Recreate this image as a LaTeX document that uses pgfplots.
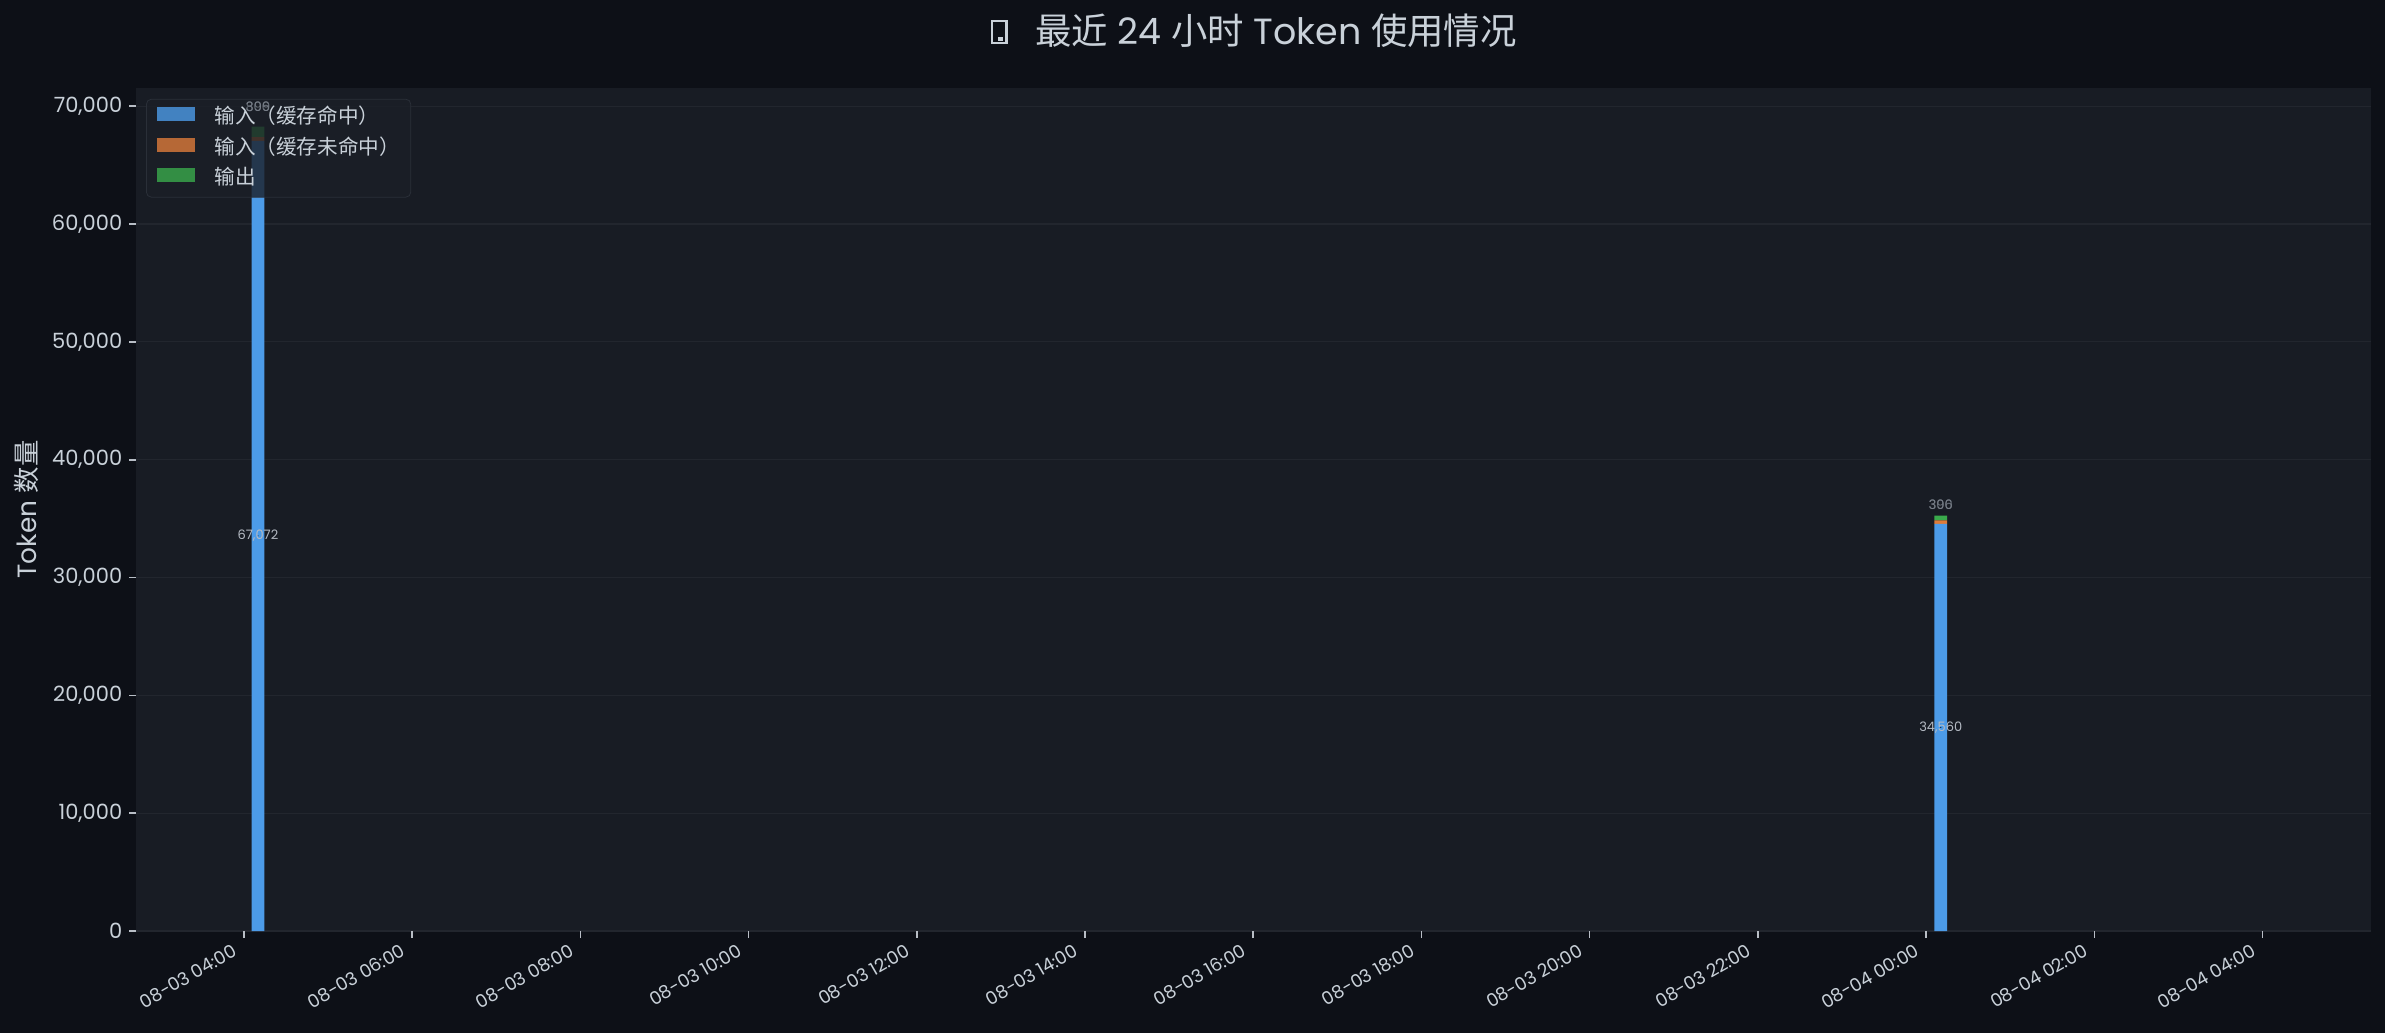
\documentclass[border=0pt]{standalone}
\usepackage{pgfplots}
\pgfplotsset{compat=1.18}
\usepackage{pgfplotstable}
\usepackage{fontspec}
\setmainfont{Poppins}
\newfontfamily\cjk{Noto Sans CJK SC}
\definecolor{figbg}{HTML}{0D1017}
\definecolor{axbg}{HTML}{181C24}
\definecolor{gridc}{HTML}{22262E}
\definecolor{txt}{HTML}{C9D1D9}
\definecolor{tickc}{HTML}{B8BEC6}
\definecolor{cblue}{HTML}{4C9BE8}
\definecolor{corange}{HTML}{DD7B3A}
\definecolor{cgreen}{HTML}{3AAB4C}
\definecolor{legbg}{HTML}{1B1F27}
\definecolor{legbd}{HTML}{2A2F38}
\definecolor{lbl}{HTML}{B4BAC3}
\definecolor{lbldim}{HTML}{7D848E}

% hours since 08-03 00:00
\pgfplotstableread{
x y
4.167 67072
24.174 34560
}\hitdata
\pgfplotstableread{
x y
4.167 306
24.174 300
}\missdata
\pgfplotstableread{
x y
4.167 899
24.174 396
}\outdata
\pgfplotstableread{
x y label
4.167 33536 67,072
24.174 17280 34,560
}\hitlabels
\pgfplotstableread{
x y label
4.167 69980 306
24.174 36165 300
4.167 69980 899
24.174 36165 396
}\toplabels

\begin{document}
\begin{tikzpicture}
\fill[figbg] (0,0) rectangle (1192.5pt,516.5pt);
\useasboundingbox (0,0) rectangle (1192.5pt,516.5pt);
\begin{axis}[
  at={(68pt,51pt)}, anchor=south west,
  scale only axis, width=1117.5pt, height=421.5pt,
  xmin=2.717, xmax=29.29, ymin=0, ymax=71550,
  axis background/.style={fill=axbg},
  axis line style={draw=none},
  ybar stacked, bar width=0.15,
  legend image code/.code={\fill[#1,/tikz/.cd,sharp corners] (0pt,-3pt) rectangle (19pt,4pt);},
  xtick={4,6,...,28},
  xticklabels={08-03 04:00,08-03 06:00,08-03 08:00,08-03 10:00,08-03 12:00,08-03 14:00,08-03 16:00,08-03 18:00,08-03 20:00,08-03 22:00,08-04 00:00,08-04 02:00,08-04 04:00},
  ytick={0,10000,...,70000},
  scaled y ticks=false,
  yticklabel style={/pgf/number format/1000 sep={,}, /pgf/number format/assume math mode=true,
     font=\fontsize{10.5}{12}\selectfont, text=txt, anchor=east, inner sep=0pt, xshift=-3.2pt},
  xticklabel style={xshift=-6pt, yshift=-2.4pt, rotate=30, anchor=north east, font=\fontsize{9}{11}\selectfont, text=txt,
     inner sep=0pt},
  tick align=outside, major tick length=3.5pt,
  xtick pos=bottom, ytick pos=left,
  tick style={color=tickc, line width=0.8pt},
  ymajorgrids, major grid style={color=gridc, line width=0.6pt},
  ylabel={Token {\cjk 数量}},
  every axis y label/.style={at={(axis description cs:-0.0492,0.5)}, rotate=90, anchor=center,
     font=\fontsize{13.2}{15}\selectfont, text=txt},
  legend cell align=left,
  legend style={at={(axis description cs:0,1)}, anchor=north west, xshift=5pt, yshift=-5.4pt,
     fill=legbg, fill opacity=0.8, text opacity=1, draw=legbd, draw opacity=1, rounded corners=2.5pt,
     inner xsep=5.5pt, inner ysep=3.3pt, row sep=3.2pt, column sep=9.5pt,
     font=\cjk\fontsize{10.3}{11}\selectfont, text=txt,
     nodes={inner sep=0pt, text height=9pt, text depth=3pt, anchor=west, yshift=-1.2pt}},
]
\addplot[fill=cblue, draw=none] table[x=x,y=y] {\hitdata};
\addlegendentry{输入（缓存命中）}
\addplot[fill=corange, draw=none] table[x=x,y=y] {\missdata};
\addlegendentry{输入（缓存未命中）}
\addplot[fill=cgreen, draw=none] table[x=x,y=y] {\outdata};
\addlegendentry{输出}
\end{axis}
\begin{axis}[
  at={(68pt,51pt)}, anchor=south west,
  scale only axis, width=1117.5pt, height=421.5pt,
  xmin=2.717, xmax=29.29, ymin=0, ymax=71550,
  hide axis, clip=false,
]
\addplot[only marks, mark=*, mark size=0.01pt, mark options={draw=none, fill=none},
  nodes near coords, point meta=explicit symbolic,
  every node near coord/.append style={anchor=center, inner sep=0pt, font=\fontsize{6.5}{7}\selectfont, text=lbl}]
  table[x=x,y=y,meta=label] {\hitlabels};
\addplot[only marks, mark=*, mark size=0.01pt, mark options={draw=none, fill=none},
  nodes near coords, point meta=explicit symbolic,
  every node near coord/.append style={anchor=center, inner sep=0pt, font=\fontsize{6.5}{7}\selectfont, text=lbldim, opacity=0.8}]
  table[x=x,y=y,meta=label] {\toplabels};
\end{axis}
% title with the glyph box before it
\draw[color=txt, line width=1.1pt] (496.1pt,494.9pt) rectangle (503.2pt,505.9pt);
\fill[txt] (498.9pt,495.9pt) rectangle (501.3pt,498.2pt);
\node[anchor=base, text=txt, inner sep=0pt, font=\fontsize{18.2}{20}\selectfont] at (638pt,494.3pt)
  {{\cjk 最近} 24 {\cjk 小时} Token {\cjk 使用情况}};
\end{tikzpicture}
\end{document}
